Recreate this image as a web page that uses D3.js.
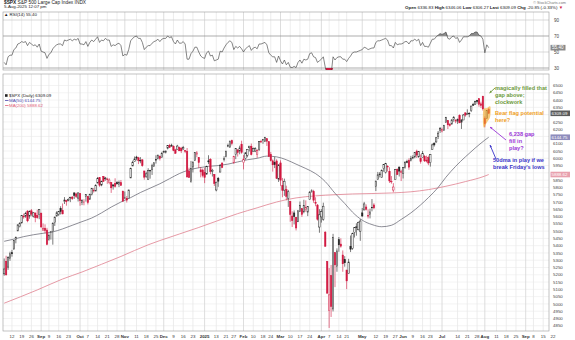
<!DOCTYPE html>
<html><head><meta charset="utf-8">
<script src="https://cdn.jsdelivr.net/npm/d3@7"></script>
<style>
body{margin:0;background:#fff}
svg{display:block}
text{font-family:"Liberation Sans",Arial,sans-serif}
</style>
</head><body>
<svg id="chart" width="575" height="340"></svg>
<script>
// ---- trading calendar ----
const firstDay = "2024-08-06";
const lastAxisDay = "2025-09-22";
const holidays = ["2024-09-02","2024-11-28","2024-12-25","2025-01-01","2025-01-09","2025-01-20",
  "2025-02-17","2025-04-18","2025-05-26","2025-06-19","2025-07-04","2025-09-01"];

// ---- daily S&P 500 candles [open, high, low, close] ----
const ohlc = [
  // Aug 2024
  [5206.4,5312.3,5193.6,5240.0],[5293.1,5330.6,5195.5,5199.5],[5252.6,5328.0,5233.9,5319.3],[5314.2,5358.7,5296.2,5344.2],
  [5351.8,5371.2,5324.4,5344.4],[5376.0,5436.5,5376.0,5434.4],[5442.2,5463.2,5416.0,5455.2],[5501.1,5546.2,5501.1,5543.2],
  [5530.5,5561.0,5525.2,5554.3],[5557.2,5608.3,5550.7,5608.3],[5602.9,5620.5,5585.5,5597.1],[5603.1,5632.7,5591.6,5620.9],
  [5637.8,5643.2,5560.9,5570.6],[5602.9,5641.8,5585.2,5634.6],[5639.7,5651.6,5602.3,5616.8],[5602.9,5631.2,5593.5,5625.8],
  [5624.5,5627.0,5560.9,5592.2],[5607.3,5646.9,5585.2,5592.0],[5612.7,5651.4,5581.8,5648.4],
  // Sep 2024
  [5623.9,5623.9,5522.9,5528.9],[5506.7,5552.7,5503.7,5520.1],[5520.1,5546.3,5485.7,5503.4],[5507.3,5522.5,5402.6,5408.4],
  [5442.1,5484.2,5434.5,5471.1],[5490.5,5497.9,5441.7,5495.5],[5496.4,5560.4,5406.9,5554.1],[5557.5,5600.7,5535.5,5595.8],
  [5603.3,5636.3,5601.6,5626.0],[5615.1,5636.1,5604.5,5633.1],[5655.5,5670.8,5614.1,5634.6],[5641.7,5689.8,5615.1,5618.3],
  [5702.6,5733.6,5686.4,5713.6],[5709.0,5715.1,5674.5,5702.6],[5711.9,5725.4,5704.9,5718.6],[5727.4,5735.3,5698.9,5732.9],
  [5733.6,5741.0,5714.1,5722.3],[5762.2,5767.4,5721.0,5745.4],[5755.4,5763.8,5727.3,5738.2],[5726.5,5765.1,5703.5,5762.5],
  // Oct 2024
  [5757.7,5757.7,5674.0,5708.8],[5698.2,5719.1,5678.4,5709.5],[5698.2,5718.8,5677.1,5699.9],[5737.9,5753.0,5702.8,5751.1],
  [5737.8,5739.3,5683.3,5695.9],[5719.1,5757.6,5714.6,5751.1],[5751.8,5796.8,5745.0,5792.0],[5778.4,5795.0,5764.8,5780.1],
  [5775.1,5822.1,5775.1,5815.0],[5829.8,5871.4,5829.8,5859.9],[5866.7,5870.4,5804.5,5815.3],[5816.6,5846.5,5808.3,5842.5],
  [5875.6,5878.5,5840.3,5841.5],[5859.4,5872.2,5846.1,5864.7],[5857.8,5866.9,5824.8,5854.0],[5832.7,5863.0,5821.2,5851.2],
  [5834.5,5834.9,5762.4,5797.4],[5817.8,5817.8,5784.9,5809.9],[5826.8,5862.8,5799.0,5808.1],[5833.9,5842.9,5823.1,5823.5],
  [5819.7,5847.2,5802.1,5832.9],[5832.9,5850.9,5811.3,5813.7],[5775.3,5775.3,5702.9,5705.5],
  // Nov 2024
  [5723.2,5772.1,5723.2,5728.8],[5725.2,5741.4,5696.5,5712.7],[5722.4,5783.4,5722.1,5782.8],[5864.9,5936.1,5864.9,5929.0],
  [5947.2,5983.8,5947.2,5973.1],[5976.8,6012.5,5976.8,5995.5],[6008.9,6017.3,5986.7,6001.4],[6003.6,6009.9,5960.1,5984.0],
  [5985.8,6008.2,5965.9,5985.4],[5989.6,5993.9,5942.3,5949.2],[5912.8,5915.3,5853.0,5870.6],[5874.2,5908.1,5865.9,5893.6],
  [5853.0,5932.0,5851.9,5917.0],[5914.6,5920.7,5860.2,5917.1],[5924.4,5963.0,5885.6,5948.7],[5944.4,5972.9,5944.4,5969.3],
  [5992.3,6020.8,5963.9,5987.4],[6000.0,6025.4,5992.3,6021.6],[6014.1,6020.2,5984.9,5998.7],[6003.9,6044.2,6003.9,6032.4],
  // Dec 2024
  [6040.1,6053.6,6035.3,6047.2],[6042.0,6052.7,6033.4,6049.9],[6069.4,6089.8,6061.1,6086.5],[6089.4,6099.0,6070.4,6075.1],
  [6081.4,6099.9,6079.4,6090.3],[6083.0,6088.5,6048.6,6052.9],[6057.6,6065.4,6029.9,6034.9],[6060.2,6092.6,6060.2,6084.2],
  [6074.3,6079.7,6051.3,6051.3],[6068.2,6078.6,6035.8,6051.1],[6063.8,6085.2,6059.1,6074.1],[6052.6,6057.7,6035.2,6050.6],
  [6047.6,6070.7,5867.8,5872.2],[5912.7,5935.5,5866.1,5867.1],[5842.0,5982.1,5832.3,5930.9],[5940.3,5978.3,5902.6,5974.1],
  [5984.6,6040.1,5981.4,6040.0],[6024.9,6049.8,6007.4,6037.6],[6006.2,6006.2,5932.9,5970.8],[5920.7,5940.8,5869.2,5906.9],
  [5919.7,5929.7,5868.9,5881.6],
  // Jan 2025
  [5903.3,5935.1,5829.5,5868.6],[5891.1,5949.3,5888.7,5942.5],[5982.8,6021.0,5960.0,5975.4],[5993.3,6000.7,5890.7,5909.0],
  [5910.7,5927.9,5874.8,5918.3],[5890.3,5890.3,5809.9,5827.0],[5782.4,5838.2,5773.3,5836.2],[5863.1,5871.9,5804.0,5842.9],
  [5905.2,5960.6,5905.2,5949.9],[5967.9,5969.5,5932.5,5937.3],[5995.8,6014.1,5978.0,5996.7],[6014.1,6051.5,6006.9,6049.2],
  [6081.4,6100.8,6076.1,6086.4],[6076.3,6118.7,6074.7,6118.7],[6121.4,6128.2,6088.7,6101.2],[5969.0,6017.2,5962.9,6012.3],
  [6026.0,6069.1,5994.0,6067.7],[6057.7,6062.8,6012.0,6039.3],[6050.8,6086.6,6027.5,6071.2],[6096.8,6120.9,6030.9,6040.5],
  // Feb 2025
  [5969.7,6022.1,5923.9,5994.6],[5998.1,6042.5,5990.9,6037.9],[6020.5,6062.9,6007.1,6061.5],[6072.2,6084.0,6046.8,6083.6],
  [6083.1,6101.3,6019.9,6026.0],[6046.4,6073.4,6044.8,6066.4],[6049.3,6076.3,6042.3,6068.5],[6025.1,6063.0,6003.0,6052.0],
  [6060.6,6116.9,6051.0,6115.1],[6115.5,6127.5,6107.6,6114.6],[6121.6,6129.6,6099.5,6129.6],[6117.8,6147.4,6111.2,6144.2],
  [6134.5,6134.5,6084.6,6117.5],[6114.1,6114.8,6008.6,6013.1],[6026.7,6043.7,5977.8,5983.3],[5982.7,5992.7,5908.5,5955.3],
  [5970.9,6009.8,5932.7,5956.1],[5981.9,5993.7,5858.8,5861.6],[5856.7,5959.4,5837.7,5954.5],
  // Mar 2025
  [5968.3,5986.1,5810.9,5849.7],[5811.9,5865.1,5732.6,5778.2],[5781.4,5860.6,5742.4,5842.6],[5785.9,5812.1,5711.6,5738.5],
  [5726.0,5783.0,5666.3,5770.2],[5705.4,5705.4,5564.0,5614.6],[5603.7,5636.3,5528.4,5572.1],[5624.8,5642.2,5546.1,5599.3],
  [5594.5,5597.8,5504.7,5521.5],[5563.9,5645.3,5563.9,5638.9],[5635.6,5703.5,5631.1,5675.1],[5654.5,5654.5,5597.8,5614.7],
  [5632.4,5715.3,5622.2,5675.3],[5646.9,5711.2,5632.3,5662.9],[5630.7,5670.8,5603.1,5667.6],[5718.1,5775.1,5718.1,5767.6],
  [5775.9,5786.9,5764.0,5776.7],[5771.7,5783.6,5694.4,5712.2],[5695.6,5732.3,5670.9,5693.3],[5679.1,5685.9,5572.4,5580.9],
  [5527.9,5650.6,5488.7,5611.9],
  // Apr 2025
  [5597.5,5650.8,5558.5,5633.1],[5580.8,5695.3,5571.5,5671.0],[5492.7,5499.5,5390.8,5396.5],[5292.1,5292.1,5069.9,5074.1],
  [4953.8,5246.6,4835.0,5062.3],[5193.6,5267.5,4910.4,4982.8],[4965.3,5481.3,4948.4,5456.9],[5353.2,5353.2,5115.3,5268.1],
  [5255.6,5381.5,5220.8,5363.4],[5441.0,5459.5,5358.0,5406.0],[5411.0,5450.4,5386.4,5396.6],[5335.8,5367.2,5220.8,5275.7],
  [5305.5,5328.3,5255.6,5282.7],[5232.9,5232.9,5101.6,5158.2],[5207.7,5309.6,5207.7,5287.8],[5395.9,5469.7,5356.1,5375.9],
  [5381.4,5489.4,5371.9,5484.8],[5489.7,5528.1,5455.9,5525.2],[5529.2,5553.7,5468.6,5528.8],[5508.9,5565.6,5505.7,5560.8],
  [5499.4,5581.8,5433.2,5569.1],
  // May 2025
  [5625.1,5658.9,5597.4,5604.1],[5645.0,5700.7,5644.1,5686.7],[5665.6,5683.2,5641.6,5650.4],[5605.8,5649.3,5586.8,5606.9],
  [5614.8,5654.1,5587.2,5631.3],[5663.9,5720.1,5635.7,5663.9],[5679.7,5691.7,5650.5,5659.9],[5807.3,5844.2,5775.2,5844.2],
  [5854.7,5906.6,5854.2,5886.6],[5886.9,5906.0,5868.6,5892.6],[5869.0,5924.0,5867.4,5916.9],[5929.1,5958.6,5907.4,5958.4],
  [5902.9,5968.6,5895.7,5963.6],[5944.7,5953.1,5909.3,5940.5],[5910.7,5938.4,5830.9,5844.6],[5841.3,5878.1,5825.8,5842.0],
  [5781.9,5829.5,5767.4,5802.8],[5854.1,5924.3,5854.1,5921.5],[5925.0,5930.0,5886.1,5888.6],[5939.9,5943.1,5874.9,5912.2],
  [5903.7,5922.1,5843.7,5911.7],
  // Jun 2025
  [5896.7,5937.4,5861.4,5935.9],[5938.6,5981.4,5929.0,5970.4],[5978.1,5990.5,5966.1,5970.8],[5985.7,5999.7,5921.2,5939.3],
  [5987.1,6016.9,5978.6,6000.4],[6004.6,6021.3,5994.2,6005.9],[6009.9,6043.0,6000.3,6038.8],[6049.4,6059.4,6002.3,6022.2],
  [6009.9,6045.4,6003.9,6045.3],[6000.6,6026.2,5963.2,5977.0],[6004.0,6050.8,6004.0,6033.1],[6012.2,6023.3,5974.8,5982.7],
  [5987.9,6018.2,5971.9,5980.9],[6004.1,6018.2,5952.6,5967.8],[5969.7,6028.8,5943.2,6025.2],[6061.2,6101.8,6059.2,6092.2],
  [6104.1,6108.5,6080.8,6092.2],[6112.1,6146.5,6107.3,6141.0],[6150.7,6187.7,6132.4,6173.1],[6193.4,6215.1,6174.0,6205.0],
  // Jul 2025
  [6187.3,6210.8,6177.9,6198.0],[6193.6,6227.6,6188.3,6227.4],[6246.5,6284.7,6246.5,6279.4],[6259.8,6262.5,6201.0,6230.0],
  [6233.7,6242.7,6217.7,6225.5],[6235.6,6269.4,6231.6,6263.3],[6266.4,6290.2,6251.1,6280.5],[6255.7,6269.6,6241.3,6259.8],
  [6255.2,6272.7,6235.9,6268.6],[6295.3,6302.0,6241.4,6243.8],[6248.4,6267.9,6201.6,6263.7],[6263.0,6304.5,6263.0,6297.4],
  [6311.9,6315.6,6285.8,6296.8],[6304.7,6336.1,6303.8,6305.6],[6306.6,6316.1,6281.7,6309.6],[6326.9,6360.6,6317.5,6358.9],
  [6368.6,6381.3,6360.6,6363.4],[6370.0,6395.8,6368.5,6388.6],[6397.7,6401.1,6375.0,6389.8],[6409.3,6409.3,6354.2,6370.9],
  [6374.3,6389.1,6346.1,6362.9],[6427.0,6427.0,6327.6,6339.4],
  // Aug 2025
  [6271.7,6288.0,6212.7,6238.0],[6271.7,6330.0,6271.7,6329.9],[6336.8,6346.1,6306.3,6309.09]
];

// ---- RSI(14), one value per session ----
const rsi14 = [
  37,34,44,46,46,53,55,60,61,63,62,63,58,62,60,58,59,56,60,
  51,50,49,42,47,49,54,57,59,60,60,58,65,64,65,66,64,66,65,67,
  60,60,59,63,57,62,65,63,66,69,62,65,64,67,65,65,57,59,58,60,61,58,45,
  47,46,53,64,67,69,70,67,67,62,53,56,58,58,61,63,64,66,63,66,
  67,67,70,68,69,63,60,65,61,61,63,60,41,41,48,51,56,56,50,45,43,
  42,49,51,45,46,39,40,41,51,50,55,59,62,64,62,53,57,55,57,54,
  50,54,56,58,52,55,56,54,60,60,61,62,59,49,46,44,44,37,45,
  39,35,40,34,37,31,30.5,32,30.5,37,40,36,41,40,41,48,49,44,43,37,39,
  41,44,31,23,23.5,22,44,40,43,44,44,41,41,38,42,45,49,50,50,51,52,
  53,56,55,53,54,55,55,62,64,64,65,66,67,65,58,58,55,62,59,60,60,
  61,63,63,60,64,64,66,64,66,58,62,57,57,56,61,66,66,69,71,73,
  72,73,75,67,66,69,70,67,68,62,65,69,69,69,70,73,73,75,75,71,70,66,
  49,59,55.4
];

// ---- moving averages (weekly readings) ----
const sma50 = [
  ["2024-08-06",5430],["2024-08-13",5445],["2024-08-20",5462],["2024-08-27",5475],["2024-09-04",5485],
  ["2024-09-11",5495],["2024-09-18",5515],["2024-09-25",5540],["2024-10-02",5565],["2024-10-09",5590],
  ["2024-10-16",5625],["2024-10-23",5665],["2024-10-30",5700],["2024-11-06",5730],["2024-11-13",5765],
  ["2024-11-20",5795],["2024-11-27",5825],["2024-12-05",5860],["2024-12-12",5895],["2024-12-19",5920],
  ["2024-12-27",5935],["2025-01-06",5945],["2025-01-14",5950],["2025-01-22",5960],["2025-01-29",5975],
  ["2025-02-05",5990],["2025-02-12",6000],["2025-02-20",6015],["2025-02-27",6010],["2025-03-06",5990],
  ["2025-03-13",5960],["2025-03-20",5930],["2025-03-27",5895],["2025-04-03",5840],["2025-04-10",5760],
  ["2025-04-17",5690],["2025-04-24",5630],["2025-05-01",5575],["2025-05-08",5545],["2025-05-15",5530],
  ["2025-05-22",5540],["2025-05-30",5580],["2025-06-06",5625],["2025-06-13",5680],["2025-06-20",5730],
  ["2025-06-27",5800],["2025-07-03",5870],["2025-07-11",5945],["2025-07-18",6010],["2025-07-25",6070],
  ["2025-08-01",6125],["2025-08-05",6144.75]
];
const sma200 = [
  ["2024-08-06",5005],["2024-08-29",5096],["2024-09-18",5171],["2024-10-02",5219],["2024-10-16",5272],
  ["2024-10-30",5326],["2024-11-19",5406],["2024-11-27",5435],["2024-12-12",5480],["2024-12-27",5525],
  ["2025-01-13",5568],["2025-01-29",5620],["2025-02-12",5660],["2025-02-27",5700],["2025-03-13",5728],
  ["2025-03-27",5742],["2025-04-10",5750],["2025-04-24",5755],["2025-05-08",5758],["2025-05-22",5762],
  ["2025-06-06",5770],["2025-06-20",5785],["2025-07-03",5808],["2025-07-18",5840],["2025-08-01",5878],
  ["2025-08-05",5888.62]
];

// ---- axis ticks ----
const priceTicks = [4850,4900,4950,5000,5050,5100,5150,5200,5250,5300,5350,5400,5450,5500,5550,5600,5650,
  5700,5750,5800,5850,5900,5950,6000,6050,6100,6150,6200,6250,6300,6350,6400,6450,6500];
const rsiTicks = [30,50,70,90];

// ---- header ----
const titleSymbol = "$SPX";
const titleName = "S&P 500 Large Cap Index  INDX";
const stamp = "5-Aug-2025 12:07 pm";
const quote = [["Open","6336.83"],["High","6346.06"],["Low","6306.27"],["Last","6309.09"],["Chg","-20.85 (-0.33%)"]];

// ---- notes ----
const notes = [
  {lines:["magically filled that","gap above;","clockwork"], color:"#6d9a3c", x:495, y:90},
  {lines:["Bear flag potential","here?"], color:"#f0a024", x:495, y:115},
  {lines:["6,238 gap","fill in","play?"], color:"#9a36d6", x:509, y:136},
  {lines:["50dma in play if we","break Friday's lows"], color:"#3b34c8", x:493, y:162}
];

// ================= drawing =================
const svg = d3.select("#chart");
const fmt = d3.utcFormat("%Y-%m-%d");
const parse = d3.utcParse("%Y-%m-%d");

const days = [];
for (let d = parse(firstDay); fmt(d) <= lastAxisDay; d = d3.utcDay.offset(d, 1)) {
  const wd = d.getUTCDay(), s = fmt(d);
  if (wd === 0 || wd === 6 || holidays.includes(s)) continue;
  days.push(s);
}
const candles = ohlc.map((r, i) => ({date: days[i], o: r[0], h: r[1], l: r[2], c: r[3],
  pc: i > 0 ? ohlc[i-1][3] : r[0]}));

const L = 3, R = 549;
const rsiTop = 12, rsiBot = 70;
const pTop = 74, pBot = 331;

const x = d3.scaleBand().domain(days).range([3.2, 3.2 + days.length * 1.946]);
const bw = x.bandwidth();
const cx = d => x(d) + bw / 2;
const y = d3.scaleLinear().domain([4814, 6579]).range([pBot, pTop]);
const yr = d3.scaleLinear().domain([27.5, 100]).range([rsiBot, rsiTop]);

svg.append("rect").attr("width", 575).attr("height", 340).attr("fill", "#fff");

const defs = svg.append("defs");
defs.append("clipPath").attr("id", "clipP").append("rect").attr("x", L).attr("y", pTop).attr("width", R - L).attr("height", pBot - pTop);
defs.append("clipPath").attr("id", "clipR").append("rect").attr("x", L).attr("y", rsiTop).attr("width", R - L).attr("height", rsiBot - rsiTop);

// x labels: month starts and week starts
const marks = [];
days.forEach((d, i) => {
  if (i === 0) return;
  const dt = parse(d), pv = parse(days[i-1]);
  if (dt.getUTCMonth() !== pv.getUTCMonth()) {
    marks.push({i, d, month: true, text: dt.getUTCMonth() === 0 ? String(dt.getUTCFullYear()) : d3.utcFormat("%b")(dt)});
  } else if (dt.getUTCDay() < pv.getUTCDay()) {
    marks.push({i, d, month: false, text: String(dt.getUTCDate())});
  }
});
const monthIdx = marks.filter(m => m.month).map(m => m.i);
const xMarks = marks.filter(m => m.month || !monthIdx.some(k => Math.abs(k - m.i) <= 3));

// RSI panel grid
svg.append("g").selectAll("line").data(xMarks).join("line")
  .attr("x1", m => cx(m.d)).attr("x2", m => cx(m.d)).attr("y1", rsiTop).attr("y2", rsiBot)
  .attr("stroke", m => m.month ? "#d4d4d4" : "#e9e9e9").attr("stroke-width", 0.8)
  .attr("clip-path", "url(#clipR)");
svg.append("g").selectAll("line").data(rsiTicks).join("line")
  .attr("x1", L).attr("x2", R).attr("y1", t => yr(t)).attr("y2", t => yr(t))
  .attr("stroke", t => (t === 70 || t === 30) ? "#8a8a8a" : "#c8c8c8").attr("stroke-width", 0.7);

// price grid
svg.append("g").selectAll("line").data(priceTicks).join("line")
  .attr("x1", L).attr("x2", R).attr("y1", t => y(t)).attr("y2", t => y(t))
  .attr("stroke", "#eeeeee").attr("stroke-width", 0.7);
svg.append("g").selectAll("line").data(xMarks).join("line")
  .attr("x1", m => cx(m.d)).attr("x2", m => cx(m.d)).attr("y1", pTop).attr("y2", pBot)
  .attr("stroke", m => m.month ? "#d4d4d4" : "#e9e9e9").attr("stroke-width", 0.8)
  .attr("clip-path", "url(#clipP)");

// panel frames
svg.append("rect").attr("x", L).attr("y", rsiTop).attr("width", R - L).attr("height", rsiBot - rsiTop)
  .attr("fill", "none").attr("stroke", "#9a9a9a").attr("stroke-width", 0.6);
svg.append("rect").attr("x", L).attr("y", pTop).attr("width", R - L).attr("height", pBot - pTop)
  .attr("fill", "none").attr("stroke", "#9a9a9a").attr("stroke-width", 0.6);

// ---- RSI ----
const rsiData = rsi14.map((v, i) => ({d: days[i], v}));
const gR = svg.append("g").attr("clip-path", "url(#clipR)");
gR.append("path").datum(rsiData)
  .attr("d", d3.area().x(p => cx(p.d)).y0(yr(70)).y1(p => yr(Math.max(p.v, 70))))
  .attr("fill", "#8c8c8c");
gR.append("path").datum(rsiData)
  .attr("d", d3.area().x(p => cx(p.d)).y0(yr(30)).y1(p => yr(Math.min(p.v, 30))))
  .attr("fill", "#d0173f");
gR.append("path").datum(rsiData)
  .attr("d", d3.line().x(p => cx(p.d)).y(p => yr(p.v)))
  .attr("fill", "none").attr("stroke", "#444").attr("stroke-width", 0.65);

svg.append("g").selectAll("text").data(rsiTicks).join("text")
  .attr("x", 554).attr("y", t => yr(t) + 1.6).attr("font-size", 4.6).attr("fill", "#444").text(t => t);
const lastRsi = rsi14[rsi14.length - 1];
svg.append("rect").attr("x", 550.5).attr("y", yr(lastRsi) - 2.8).attr("width", 15).attr("height", 5.6)
  .attr("fill", "#8a8a8a");
svg.append("text").attr("x", 552).attr("y", yr(lastRsi) + 1.6).attr("font-size", 4.6).attr("fill", "#fff")
  .text(lastRsi.toFixed(2));

// ---- price panel ----
const gP = svg.append("g").attr("clip-path", "url(#clipP)");
const maLine = d3.line().x(p => cx(p[0])).y(p => y(p[1])).curve(d3.curveMonotoneX);
gP.append("path").datum(sma200).attr("d", maLine).attr("fill", "none").attr("stroke", "#e0808f").attr("stroke-width", 0.8);
gP.append("path").datum(sma50).attr("d", maLine).attr("fill", "none").attr("stroke", "#5c5c68").attr("stroke-width", 0.7);

const red = "#d0173f", dark = "#222";
const col = c => c.c < c.pc ? red : dark;
const bodyW = Math.max(1.3, bw * 0.72);
gP.append("g").selectAll("line").data(candles).join("line")
  .attr("x1", c => cx(c.date)).attr("x2", c => cx(c.date))
  .attr("y1", c => y(c.h)).attr("y2", c => y(c.l))
  .attr("stroke", col).attr("stroke-width", 0.6);
gP.append("g").selectAll("rect").data(candles).join("rect")
  .attr("x", c => cx(c.date) - bodyW / 2).attr("width", bodyW)
  .attr("y", c => y(Math.max(c.o, c.c)))
  .attr("height", c => Math.max(0.6, Math.abs(y(c.o) - y(c.c))))
  .attr("fill", c => c.c > c.o ? "#fff" : col(c))
  .attr("stroke", col).attr("stroke-width", 0.5);

// bear-flag highlight over the last sessions
const flagDays = days.slice(247, 250);
gP.append("path")
  .attr("d", d3.line().curve(d3.curveCardinalClosed)([
    [cx(flagDays[0]) - 1.6, y(6330)], [cx(flagDays[1]), y(6345)], [cx(flagDays[2]) + 1.6, y(6355)],
    [cx(flagDays[2]) + 1.4, y(6285)], [cx(flagDays[1]), y(6245)], [cx(flagDays[0]) - 1.4, y(6215)]]))
  .attr("fill", "#f5a623").attr("fill-opacity", 0.6);

// legend
const last = candles[candles.length - 1];
const lg = svg.append("g").attr("font-size", 4.4);
lg.append("rect").attr("x", 5).attr("y", 94.2).attr("width", 2.6).attr("height", 2.6).attr("fill", "#222");
lg.append("text").attr("x", 9).attr("y", 96.8).attr("fill", "#222").text(`$SPX (Daily) ${last.c.toFixed(2)}`);
lg.append("line").attr("x1", 5).attr("x2", 8.5).attr("y1", 100.5).attr("y2", 100.5).attr("stroke", "#4b48b0").attr("stroke-width", 0.8);
lg.append("text").attr("x", 9).attr("y", 101.8).attr("fill", "#4b48b0").text(`MA(50) ${sma50[sma50.length-1][1].toFixed(2)}`);
lg.append("line").attr("x1", 5).attr("x2", 8.5).attr("y1", 105.5).attr("y2", 105.5).attr("stroke", "#e0607a").attr("stroke-width", 0.8);
lg.append("text").attr("x", 9).attr("y", 106.8).attr("fill", "#e0607a").text(`MA(200) ${sma200[sma200.length-1][1].toFixed(2)}`);

// right price axis with value flags
const flags = [
  {v: last.c, fill: "#5a5a5a"},
  {v: sma50[sma50.length-1][1], fill: "#8e8cbc"},
  {v: sma200[sma200.length-1][1], fill: "#e8a0ad"}
];
svg.append("g").selectAll("text").data(priceTicks.filter(t => !flags.some(f => Math.abs(y(f.v) - y(t)) < 4.5)))
  .join("text").attr("x", 553).attr("y", t => y(t) + 1.6).attr("font-size", 4.4).attr("fill", "#444").text(t => t);
flags.forEach(f => {
  svg.append("rect").attr("x", 550.5).attr("y", y(f.v) - 2.8).attr("width", 19.5).attr("height", 5.6).attr("fill", f.fill);
  svg.append("text").attr("x", 551.5).attr("y", y(f.v) + 1.6).attr("font-size", 4.4).attr("fill", "#fff").text(f.v.toFixed(2));
});

// x axis labels
svg.append("g").selectAll("text").data(xMarks).join("text")
  .attr("x", m => cx(m.d)).attr("y", 337.5).attr("text-anchor", "middle")
  .attr("font-size", 4.4).attr("font-weight", m => m.month ? "bold" : "normal")
  .attr("fill", "#333").text(m => m.text);

// ---- header ----
const h = svg.append("g");
const t1 = h.append("text").attr("x", 4).attr("y", 4).attr("font-size", 4.8).attr("fill", "#222");
t1.append("tspan").attr("font-weight", "bold").text(titleSymbol);
t1.append("tspan").text(" " + titleName);
h.append("text").attr("x", 4).attr("y", 8.2).attr("font-size", 4.4).attr("fill", "#222").text(stamp);
h.append("text").attr("x", 4).attr("y", 16.2).attr("font-size", 4.4).attr("fill", "#222")
  .text(`▲ RSI(14) ${lastRsi.toFixed(2)}`);
h.append("text").attr("x", 566).attr("y", 3.8).attr("text-anchor", "end").attr("font-size", 3.8).attr("fill", "#777")
  .text("© StockCharts.com");
const q = h.append("text").attr("x", 563).attr("y", 8.6).attr("text-anchor", "end").attr("font-size", 4.4).attr("fill", "#222");
quote.forEach(([k, v]) => {
  q.append("tspan").attr("font-weight", "bold").text(k + " ");
  q.append("tspan").text(v + "  ");
});
q.append("tspan").attr("fill", red).text("▼");

// ---- notes and arrows ----
notes.forEach(n => {
  const t = svg.append("text").attr("x", n.x).attr("y", n.y).attr("font-size", 5.6)
    .attr("font-weight", "bold").attr("fill", n.color);
  n.lines.forEach((s, k) => t.append("tspan").attr("x", n.x).attr("dy", k === 0 ? 0 : 6.9).text(s));
});
function arrow(x1, y1, x2, y2, color) {
  svg.append("line").attr("x1", x1).attr("y1", y1).attr("x2", x2).attr("y2", y2)
    .attr("stroke", color).attr("stroke-width", 0.9);
  const a = Math.atan2(y2 - y1, x2 - x1), s = 2.6;
  svg.append("path").attr("d", d3.line()([[x2, y2],
    [x2 - s * Math.cos(a - 0.45), y2 - s * Math.sin(a - 0.45)],
    [x2 - s * Math.cos(a + 0.45), y2 - s * Math.sin(a + 0.45)]]) + "Z").attr("fill", color);
}
arrow(495, 88, 489.5, 93, "#6d9a3c");
arrow(506, 140, 490, 127, "#9a36d6");
arrow(496, 159, 490, 145, "#3b34c8");
</script>
</body></html>
